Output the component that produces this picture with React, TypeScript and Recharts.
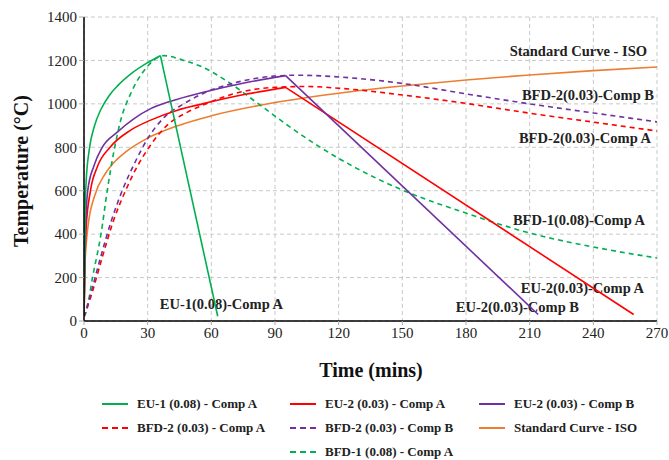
import React from 'react';
import { LineChart, Line, XAxis, YAxis, CartesianGrid } from 'recharts';

// time (mins) vs temperature (°C)
// EU curves: heating branch + straight cooling branch
const eu1AHeat = [
  { t: 0, T: 20 }, { t: 0.5, T: 500 }, { t: 1, T: 640 }, { t: 2.5, T: 790 }, { t: 5, T: 900 },
  { t: 8, T: 975 }, { t: 12, T: 1040 }, { t: 16, T: 1085 }, { t: 23, T: 1145 }, { t: 30, T: 1190 },
  { t: 36, T: 1222 },
];
const eu1ACool = [{ t: 36, T: 1222 }, { t: 63, T: 22 }];

const eu2AHeat = [
  { t: 0, T: 20 }, { t: 0.5, T: 300 }, { t: 1, T: 430 }, { t: 3.1, T: 603 }, { t: 6.3, T: 710 },
  { t: 12.3, T: 800 }, { t: 22, T: 879 }, { t: 31.4, T: 925 }, { t: 44, T: 971 }, { t: 55.8, T: 1000 },
  { t: 76.6, T: 1045 }, { t: 95, T: 1076 },
];
const eu2ACool = [{ t: 95, T: 1076 }, { t: 259, T: 30 }];

const eu2BHeat = [
  { t: 0, T: 20 }, { t: 0.5, T: 350 }, { t: 1, T: 500 }, { t: 1.8, T: 603 }, { t: 4.7, T: 715 },
  { t: 8.6, T: 800 }, { t: 15.7, T: 870 }, { t: 23.6, T: 932 }, { t: 31.4, T: 978 }, { t: 40.9, T: 1012 },
  { t: 55.8, T: 1052 }, { t: 76, T: 1097 }, { t: 95, T: 1130 },
];
const eu2BCool = [{ t: 95, T: 1130 }, { t: 214, T: 30 }];

const bfd2A = [
  { t: 0, T: 20 }, { t: 3.5, T: 120 }, { t: 8.5, T: 290 }, { t: 14, T: 465 }, { t: 19.7, T: 603 },
  { t: 25, T: 710 }, { t: 31, T: 805 }, { t: 39, T: 900 }, { t: 49, T: 963 }, { t: 56, T: 994 },
  { t: 70, T: 1045 }, { t: 90, T: 1076 }, { t: 105, T: 1080 }, { t: 120, T: 1072 }, { t: 150, T: 1041 },
  { t: 180, T: 1002 }, { t: 210, T: 957 }, { t: 240, T: 916 }, { t: 270, T: 875 },
];

const bfd2B = [
  { t: 0, T: 20 }, { t: 3, T: 120 }, { t: 8, T: 300 }, { t: 13, T: 465 }, { t: 18, T: 600 },
  { t: 24, T: 730 }, { t: 30, T: 840 }, { t: 38, T: 940 }, { t: 47, T: 1000 }, { t: 56, T: 1047 },
  { t: 70, T: 1094 }, { t: 90, T: 1128 }, { t: 100, T: 1132 }, { t: 120, T: 1124 }, { t: 150, T: 1094 },
  { t: 180, T: 1046 }, { t: 210, T: 1000 }, { t: 240, T: 958 }, { t: 270, T: 917 },
];

const bfd1A = [
  { t: 0, T: 20 }, { t: 1, T: 40 }, { t: 4, T: 200 }, { t: 8, T: 400 }, { t: 11, T: 603 },
  { t: 14.2, T: 787 }, { t: 17.3, T: 925 }, { t: 22, T: 1047 }, { t: 29, T: 1162 }, { t: 37.7, T: 1222 },
  { t: 47, T: 1200 }, { t: 55, T: 1173 }, { t: 69, T: 1094 }, { t: 83, T: 994 }, { t: 97, T: 894 },
  { t: 111, T: 802 }, { t: 128.5, T: 703 }, { t: 150, T: 603 }, { t: 180, T: 497 }, { t: 210, T: 405 },
  { t: 240, T: 341 }, { t: 270, T: 290 },
];

const isoCurve = [
  { t: 0, T: 20 }, { t: 0.5, T: 261 }, { t: 1, T: 349 }, { t: 2, T: 445 }, { t: 5, T: 576 },
  { t: 10, T: 678 }, { t: 15, T: 739 }, { t: 20, T: 781 }, { t: 30, T: 842 }, { t: 45, T: 902 },
  { t: 60, T: 945 }, { t: 90, T: 1006 }, { t: 120, T: 1049 }, { t: 150, T: 1082 }, { t: 180, T: 1110 },
  { t: 210, T: 1133 }, { t: 240, T: 1153 }, { t: 270, T: 1170 },
];

const xTicks = [0, 30, 60, 90, 120, 150, 180, 210, 240, 270];
const yTicks = [0, 200, 400, 600, 800, 1000, 1200, 1400];

const GREEN = '#00b050';
const RED = '#ff0000';
const PURPLE = '#7030a0';
const ORANGE = '#ed7d31';
const SERIF = '"Liberation Serif", "Times New Roman", serif';

// legend order
const legendItems = [
  { name: 'EU-1 (0.08) - Comp A', color: GREEN, dashed: false },
  { name: 'EU-2 (0.03) - Comp A', color: RED, dashed: false },
  { name: 'EU-2 (0.03) - Comp B', color: PURPLE, dashed: false },
  { name: 'BFD-2 (0.03) - Comp A', color: RED, dashed: true },
  { name: 'BFD-2 (0.03) - Comp B', color: PURPLE, dashed: true },
  { name: 'Standard Curve - ISO', color: ORANGE, dashed: false },
  { name: 'BFD-1 (0.08) - Comp A', color: GREEN, dashed: true },
];

// drawing order, orange underneath
const lines = [
  { key: 'iso', data: isoCurve, color: ORANGE, dashed: false, curve: 'monotone' },
  { key: 'bfd1A', data: bfd1A, color: GREEN, dashed: true, curve: 'monotone' },
  { key: 'bfd2A', data: bfd2A, color: RED, dashed: true, curve: 'monotone' },
  { key: 'bfd2B', data: bfd2B, color: PURPLE, dashed: true, curve: 'monotone' },
  { key: 'eu2AHeat', data: eu2AHeat, color: RED, dashed: false, curve: 'monotone' },
  { key: 'eu2ACool', data: eu2ACool, color: RED, dashed: false, curve: 'linear' },
  { key: 'eu2BHeat', data: eu2BHeat, color: PURPLE, dashed: false, curve: 'monotone' },
  { key: 'eu2BCool', data: eu2BCool, color: PURPLE, dashed: false, curve: 'linear' },
  { key: 'eu1AHeat', data: eu1AHeat, color: GREEN, dashed: false, curve: 'monotone' },
  { key: 'eu1ACool', data: eu1ACool, color: GREEN, dashed: false, curve: 'linear' },
];

const notes = [
  { text: 'Standard Curve - ISO', x: 647, y: 56 },
  { text: 'BFD-2(0.03)-Comp B', x: 654, y: 100 },
  { text: 'BFD-2(0.03)-Comp A', x: 651, y: 143 },
  { text: 'BFD-1(0.08)-Comp A', x: 645, y: 225 },
  { text: 'EU-2(0.03)-Comp A', x: 644, y: 293 },
  { text: 'EU-2(0.03)-Comp B', x: 579, y: 312 },
  { text: 'EU-1(0.08)-Comp A', x: 283, y: 309 },
];

const legendCols = [102, 290, 479];
const legendRows = [404, 428, 452];

export default function App() {
  return (
    <div style={{ position: 'absolute', left: 0, top: 0, width: 669, height: 460, background: '#fff' }}>
      <LineChart width={669} height={460} margin={{ top: 17, right: 12, left: 24, bottom: 109 }}>
        <CartesianGrid stroke="#c8c8c8" strokeDasharray="4 3" />
        <XAxis
          type="number"
          dataKey="t"
          domain={[0, 270]}
          ticks={xTicks}
          allowDataOverflow
          height={30}
          axisLine={{ stroke: '#000', strokeWidth: 1.5 }}
          tickLine={{ stroke: '#aaa' }}
          tickSize={4}
          tick={{ fontSize: 15, fill: '#222', fontFamily: SERIF }}
        />
        <YAxis
          type="number"
          dataKey="T"
          domain={[0, 1400]}
          ticks={yTicks}
          width={60}
          axisLine={{ stroke: '#000', strokeWidth: 1.5 }}
          tickLine={{ stroke: '#aaa' }}
          tickSize={5}
          tick={{ fontSize: 15, fill: '#222', fontFamily: SERIF }}
        />
        {lines.map((s) => (
          <Line
            key={s.key}
            data={s.data}
            dataKey="T"
            type={s.curve as any}
            stroke={s.color}
            strokeWidth={1.6}
            strokeDasharray={s.dashed ? '5 4' : undefined}
            dot={false}
            activeDot={false}
            isAnimationActive={false}
          />
        ))}
        {notes.map((n) => (
          <text key={n.text} x={n.x} y={n.y} textAnchor="end" fontFamily={SERIF} fontWeight="bold" fontSize={14.5} fill="#222">
            {n.text}
          </text>
        ))}
        <text x={21} y={171} transform="rotate(-90 21 171)" textAnchor="middle" dominantBaseline="central" fontFamily={SERIF} fontWeight="bold" fontSize={20} fill="#111">
          Temperature (°C)
        </text>
        <text x={371} y={370} textAnchor="middle" dominantBaseline="central" fontFamily={SERIF} fontWeight="bold" fontSize={20} fill="#111">
          Time (mins)
        </text>
      </LineChart>
      {legendItems.map((s, i) => {
        const lx = i === 6 ? legendCols[1] : legendCols[i % 3];
        const y = legendRows[Math.floor(i / 3)];
        return (
          <div key={s.name} style={{ position: 'absolute', left: lx, top: y - 9, height: 18, display: 'flex', alignItems: 'center', whiteSpace: 'nowrap' }}>
            <svg width={26} height={4} style={{ marginRight: 9 }}>
              <line x1={0} y1={2} x2={26} y2={2} stroke={s.color} strokeWidth={2} strokeDasharray={s.dashed ? '6 4' : undefined} />
            </svg>
            <span style={{ fontFamily: SERIF, fontWeight: 'bold', fontSize: 13, color: '#222' }}>{s.name}</span>
          </div>
        );
      })}
    </div>
  );
}
